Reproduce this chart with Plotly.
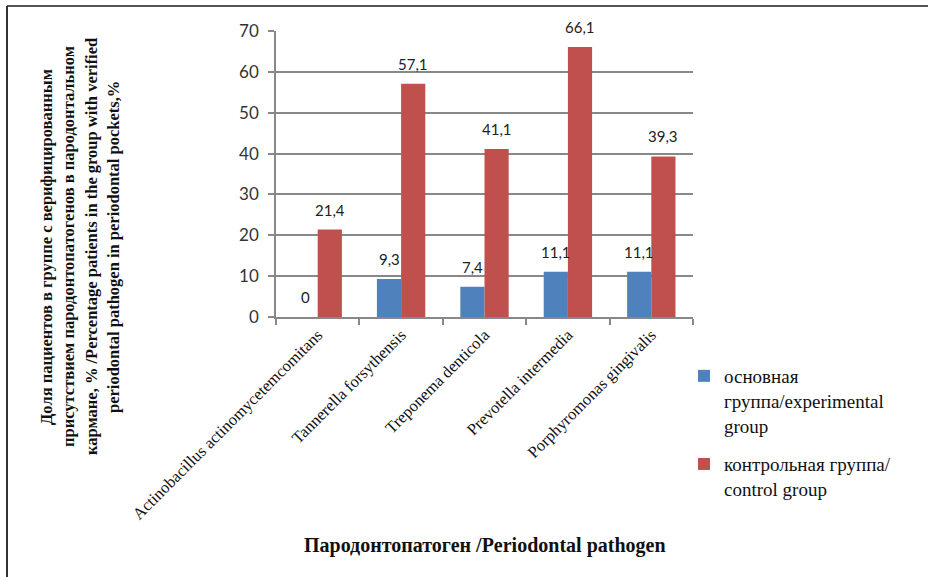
import plotly.graph_objects as go

categories = ["Actinobacillus actinomycetemcomitans", "Tannerella forsythensis",
              "Treponema denticola", "Prevotella intermedia", "Porphyromonas gingivalis"]
experimental = [0, 9.3, 7.4, 11.1, 11.1]
control = [21.4, 57.1, 41.1, 66.1, 39.3]
series_names = ["основная<br>группа/experimental<br>group", "контрольная группа/<br>control group"]
y_ticks = [0, 10, 20, 30, 40, 50, 60, 70]

SERIF = "Liberation Serif, Times New Roman, serif"
SANS = "Lato, sans-serif"

W, H = 928, 577
L, R, T, B = 276, 693, 31, 317

def px_x(px):
    return (px - L) / (R - L)

def px_y(py):
    return (B - py) / (B - T)

def serif_span(s):
    return "<span style=\"font-family:Liberation Serif,serif\">%s</span>" % s.replace(
        "<br>", "</span><br><span style=\"font-family:Liberation Serif,serif\">")

fig = go.Figure()
fig.add_trace(go.Bar(x=categories, y=experimental, name=serif_span(series_names[0]),
                     marker=dict(color="#4F81BD", line=dict(width=0)), legendgroup="a"))
fig.add_trace(go.Bar(x=categories, y=control, name=serif_span(series_names[1]),
                     marker=dict(color="#C0504D", line=dict(width=0)), legendgroup="b"))

def fmt(v):
    return ("%g" % v).replace(".", ",")

ann = []
for vals, xs in ((experimental, -12), (control, 12)):
    for c, v in zip(categories, vals):
        ann.append(dict(x=c, y=v, xref="x", yref="y", text=fmt(v), showarrow=False,
                        xshift=xs, yshift=9, yanchor="bottom",
                        font=dict(family=SANS, size=15, color="#222")))

ytitle_lines = ["Доля пациентов в группе с верифицированным",
                "присутствием пародонтопатогенов в пародонтальном",
                "кармане, % /Percentage patients in the group with verified",
                "periodontal pathogen in periodontal pockets,%"]
for xpx, line in zip([46, 68, 91, 113], ytitle_lines):
    ann.append(dict(x=px_x(xpx), y=px_y(247), xref="paper", yref="paper", text="<b>%s</b>" % line,
                    textangle=-90, showarrow=False, xanchor="center", yanchor="middle",
                    font=dict(family=SERIF, size=16.5, color="#111")))

ann.append(dict(x=px_x(485), y=px_y(545), xref="paper", yref="paper",
                text="<b>Пародонтопатоген /Periodontal pathogen</b>", showarrow=False,
                xanchor="center", yanchor="middle",
                font=dict(family=SERIF, size=20, color="#111")))

shapes = [
    dict(type="line", xref="paper", yref="paper", x0=px_x(7), x1=px_x(930), y0=px_y(6), y1=px_y(6),
         line=dict(color="#555", width=2)),
    dict(type="line", xref="paper", yref="paper", x0=px_x(7), x1=px_x(7), y0=px_y(6), y1=px_y(580),
         line=dict(color="#333", width=2)),
]

fig.update_layout(
    width=W, height=H,
    margin=dict(l=L, r=W - R, t=T, b=H - B),
    paper_bgcolor="white", plot_bgcolor="white",
    font=dict(family=SERIF, color="#111"),
    barmode="group", bargap=0.42, bargroupgap=0,
    annotations=ann, shapes=shapes,
    legend=dict(x=px_x(684), y=px_y(357), xanchor="left", yanchor="top",
                font=dict(family=SERIF, size=19, color="#111"),
                valign="top", traceorder="grouped", tracegroupgap=11,
                bgcolor="rgba(0,0,0,0)"),
    xaxis=dict(type="category", tickson="boundaries", ticks="outside", ticklen=6,
               tickcolor="#888", tickwidth=1.5,
               showline=True, linecolor="#888", linewidth=1.5, tickangle=-45,
               tickfont=dict(family=SERIF, size=16.5, color="#111"),
               showgrid=False),
    yaxis=dict(range=[0, 70], tickvals=y_ticks, ticks="outside", ticklen=6, tickcolor="#888",
               tickwidth=1.5, showline=True, linecolor="#888", linewidth=1.5,
               showgrid=True, gridcolor="#888", gridwidth=1.5, zeroline=False,
               tickfont=dict(family=SANS, size=17, color="#333"), ticklabelstandoff=6),
    hovermode=False,
)

fig.write_html("out.html")
